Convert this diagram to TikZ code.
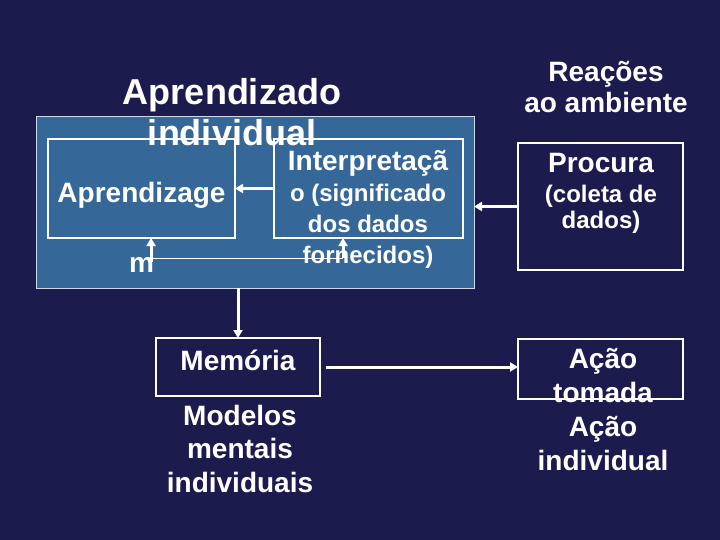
\documentclass[tikz,border=0pt]{standalone}
\usepackage{fontspec}
\setmainfont{Liberation Sans}
\usetikzlibrary{arrows.meta}
\definecolor{slidebg}{RGB}{28,27,78}
\definecolor{panelblue}{RGB}{54,103,153}

\begin{document}
\begin{tikzpicture}[x=1pt, y=-1pt,
  box/.style={draw=white, line width=1.2pt, inner sep=0pt, outer sep=0pt},
  txt/.style={text=white, align=center, inner sep=0pt, font=\fontsize{28}{33}\selectfont\bfseries},
  small/.style={txt, font=\fontsize{24}{30}\selectfont\bfseries},
  arr/.style={white, line width=3pt, -{Triangle[length=8pt,width=9pt]}}]
  \fill[slidebg] (0,0) rectangle (720,540);
  \node[box, draw=white!75!panelblue, line width=1pt, fill=panelblue, minimum width=438pt, minimum height=171pt] (panel) at (255,202.5) {};
  \node[box, minimum width=187pt, minimum height=99pt] (apr) at (141.5,188.5) {};
  \node[box, minimum width=189pt, minimum height=99pt] (interp) at (368.5,188.5) {};
  \node[box, minimum width=165pt, minimum height=127pt] (procura) at (600.5,206.5) {};
  \node[box, minimum width=164pt, minimum height=58pt] (memoria) at (238,367) {};
  \node[box, minimum width=165pt, minimum height=60pt] (acao) at (600.5,369) {};

  \node[txt, font=\fontsize{36}{41}\selectfont\bfseries] (title) at (232,112.5) {Aprendizado\\individual};
  \node[txt, font=\fontsize{28}{31}\selectfont\bfseries] (reacoes) at (606,87.5) {Reações\\ao ambiente};
  \node[txt, font=\fontsize{28}{70}\selectfont\bfseries] (aprtxt) at (141.5,227) {Aprendizage\\m};
  \node[txt] (interptitle) at (368,163) {Interpretaçã};
  \node[small, font=\fontsize{24}{31}\selectfont\bfseries] (interptxt) at (368,226) {o (significado\\dos dados\\fornecidos)};
  \node[txt] (procuratxt) at (601,163) {Procura};
  \node[small, font=\fontsize{24}{26}\selectfont\bfseries] (coleta) at (601,209) {(coleta de\\dados)};
  \node[txt] (memtxt) at (238,360) {Memória};
  \node[txt, font=\fontsize{28}{33.5}\selectfont\bfseries] (modelos) at (240,448.5) {Modelos\\mentais\\individuais};
  \node[txt, font=\fontsize{28}{34.3}\selectfont\bfseries] (acaotxt) at (603,409.5) {Ação\\tomada\\Ação\\individual};

  \coordinate (loopL) at (151,262);
  \coordinate (loopR) at (343,258);
  \draw[arr] (interp.west) -- (apr.east);
  \draw[arr] (procura.west) -- (procura.west -| panel.east);
  \draw[arr] (memoria.north |- panel.south) -- (memoria.north);
  \draw[arr, shorten <=6pt] (memoria.east) -- (memoria.east -| acao.west);
  \draw[white, line width=1pt] (loopL |- loopR) -- (loopR);
  \draw[arr] (loopL) -- (loopL |- apr.south);
  \draw[arr] (loopR) -- (loopR |- interp.south);
\end{tikzpicture}
\end{document}
